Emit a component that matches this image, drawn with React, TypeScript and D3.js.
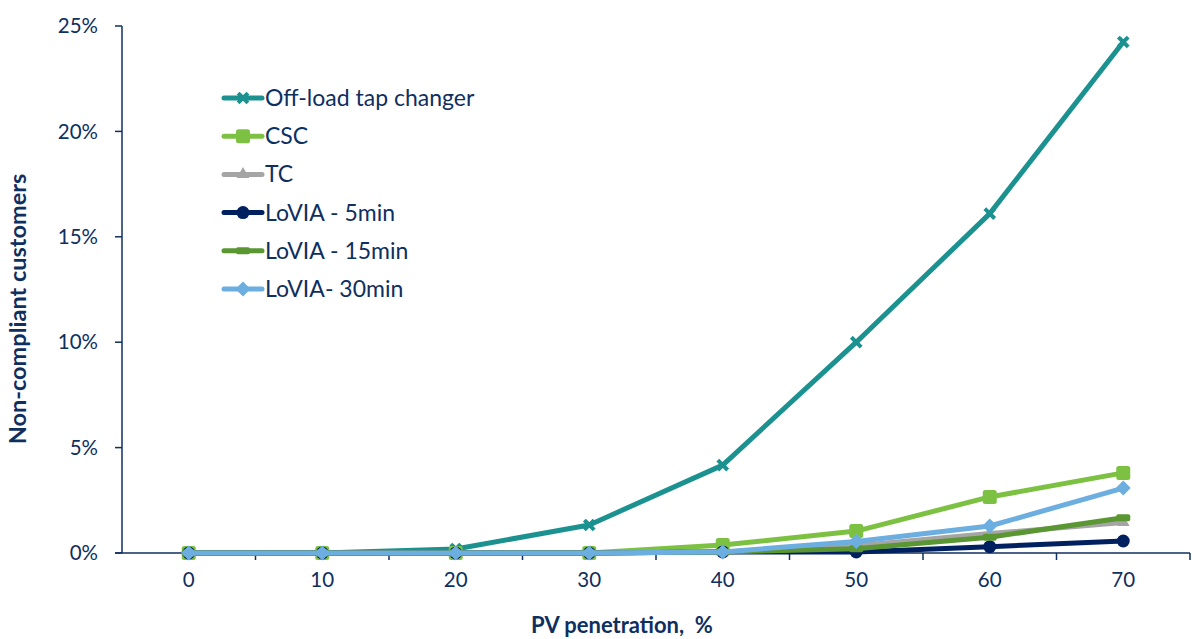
import React from "react";
import * as d3 from "d3";

const categories = [0, 10, 20, 30, 40, 50, 60, 70];
const offLoad = [0, 0, 0.0019, 0.0133, 0.0417, 0.1, 0.161, 0.2424];
const csc = [0, 0, 0, 0, 0.0038, 0.0104, 0.0266, 0.038];
const tc = [0, 0, 0, 0, 0.0005, 0.0035, 0.0092, 0.0145];
const lovia5 = [0, 0, 0, 0, 0.0005, 0.0005, 0.003, 0.0057];
const lovia15 = [0, 0, 0, 0, 0.0005, 0.002, 0.0075, 0.0167];
const lovia30 = [0, 0, 0, 0, 0.0005, 0.0055, 0.0128, 0.0308];
const yTicks = [0, 0.05, 0.1, 0.15, 0.2, 0.25];

const series = [
  { name: "Off-load tap changer", values: offLoad, color: "#1B9190", marker: "x" },
  { name: "CSC", values: csc, color: "#7DC142", marker: "square" },
  { name: "TC", values: tc, color: "#A5A5A5", marker: "triangle" },
  { name: "LoVIA - 5min", values: lovia5, color: "#002060", marker: "circle" },
  { name: "LoVIA - 15min", values: lovia15, color: "#5A9632", marker: "dash" },
  { name: "LoVIA- 30min", values: lovia30, color: "#6CAEE0", marker: "diamond" },
];

const W = 1192, H = 639;
const left = 122, right = 1190, top = 26, bottom = 553;
const textColor = "#0F2F5F";
const font = "Lato, 'Open Sans', sans-serif";

function Marker({ type, x, y, color }: { type: string; x: number; y: number; color: string }) {
  switch (type) {
    case "x": {
      const s = 3.5;
      return (
        <g stroke={color} strokeWidth={4} strokeLinecap="square">
          <line x1={x - s} y1={y - s} x2={x + s} y2={y + s} />
          <line x1={x - s} y1={y + s} x2={x + s} y2={y - s} />
        </g>
      );
    }
    case "square":
      return <rect x={x - 7} y={y - 7} width={14} height={14} rx={2.5} fill={color} />;
    case "triangle":
      return <path d={d3.symbol(d3.symbolTriangle, 70)() as string} transform={`translate(${x},${y})`} fill={color} />;
    case "circle":
      return <circle cx={x} cy={y} r={6.5} fill={color} />;
    case "dash":
      return <rect x={x - 7} y={y - 3.5} width={14} height={7} rx={2} fill={color} />;
    case "diamond":
      return <path d={`M${x},${y - 7.5}L${x + 7.5},${y}L${x},${y + 7.5}L${x - 7.5},${y}Z`} fill={color} />;
  }
  return null;
}

export default function App() {
  const x = d3.scaleBand<number>().domain(categories).range([left, right]);
  const y = d3.scaleLinear().domain([0, 0.25]).range([bottom, top]);
  const cx = (c: number) => (x(c) as number) + x.bandwidth() / 2;
  const line = d3
    .line<number>()
    .x((_, i) => cx(categories[i]))
    .y((v) => y(v));
  const fmt = d3.format(".0%");
  const boundaries = categories.slice(1).map((c) => x(c) as number).concat([right]);

  const legendX1 = 224, legendX2 = 262;
  const legendY0 = 98, legendDy = 38.2;

  return (
    <svg width={W} height={H} style={{ position: "absolute", left: 0, top: 0 }} fontFamily={font}>
      <rect width={W} height={H} fill="#fff" />
      {/* y axis */}
      <line x1={left} y1={top} x2={left} y2={bottom} stroke={textColor} strokeWidth={1.5} />
      {yTicks.map((t) => (
        <g key={t}>
          <line x1={left - 7} x2={left} y1={y(t)} y2={y(t)} stroke={textColor} strokeWidth={1.5} />
          <text x={98} y={y(t)} dy="0.35em" textAnchor="end" fontSize={20.5} fill={textColor}>
            {fmt(t)}
          </text>
        </g>
      ))}
      {/* x axis */}
      <line x1={left - 7} x2={right} y1={bottom} y2={bottom} stroke={textColor} strokeWidth={1.5} />
      {boundaries.map((b, i) => (
        <line key={i} x1={b} x2={b} y1={bottom} y2={bottom + 7} stroke={textColor} strokeWidth={1.5} />
      ))}
      {categories.map((c) => (
        <text key={c} x={cx(c)} y={587} textAnchor="middle" fontSize={20.5} fill={textColor}>
          {c}
        </text>
      ))}
      <text x={622} y={633} textAnchor="middle" fontSize={22} fontWeight="bold" fill={textColor} style={{ whiteSpace: "pre" }}>
        PV penetration,  %
      </text>
      <text
        transform={`translate(26,${(170 + 448) / 2}) rotate(-90)`}
        textAnchor="middle"
        fontSize={23.5}
        fontWeight="bold"
        fill={textColor}
      >
        Non-compliant customers
      </text>
      {/* series */}
      {series.map((s) => (
        <g key={s.name}>
          <path d={line(s.values) as string} fill="none" stroke={s.color} strokeWidth={5} strokeLinejoin="round" strokeLinecap="round" />
          {s.values.map((v, i) => (
            <Marker key={i} type={s.marker} x={cx(categories[i])} y={y(v)} color={s.color} />
          ))}
        </g>
      ))}
      {/* legend */}
      {series.map((s, i) => {
        const ly = legendY0 + i * legendDy;
        return (
          <g key={s.name}>
            <line x1={legendX1} x2={legendX2} y1={ly} y2={ly} stroke={s.color} strokeWidth={5} strokeLinecap="round" />
            <Marker type={s.marker} x={(legendX1 + legendX2) / 2} y={ly} color={s.color} />
            <text x={265} y={ly} dy="0.35em" fontSize={23} fill={textColor}>
              {s.name}
            </text>
          </g>
        );
      })}
    </svg>
  );
}
